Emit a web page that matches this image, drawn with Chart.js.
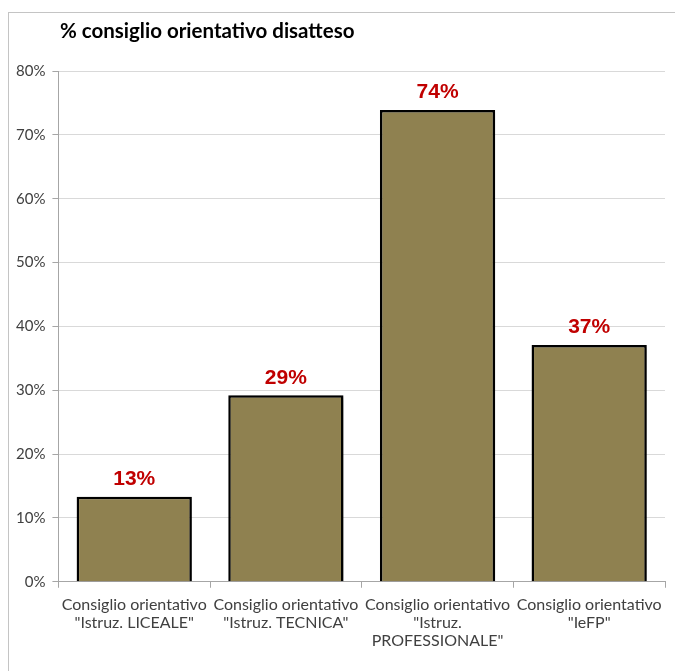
<!DOCTYPE html>
<html>
<head>
<meta charset="utf-8">
<script src="https://cdn.jsdelivr.net/npm/chart.js@4"></script>
<style>
  html, body { margin: 0; padding: 0; background: #fff; }
  #wrap { position: relative; width: 675px; height: 671px; overflow: hidden; }
  #frame { position: absolute; left: 8px; top: 12px; width: 700px; height: 700px; border: 1px solid #c4c4c4; }
  canvas { position: absolute; left: 0; top: 0; }
</style>
</head>
<body>
<div id="wrap">
  <div id="frame"></div>
  <canvas id="chart" width="675" height="671"></canvas>
</div>
<script>
  // Chart data
  const categories = [
    ['Consiglio orientativo', '"Istruz. LICEALE"'],
    ['Consiglio orientativo', '"Istruz. TECNICA"'],
    ['Consiglio orientativo', '"Istruz.', 'PROFESSIONALE"'],
    ['Consiglio orientativo', '"IeFP"']
  ];
  const values = [13.3, 29.2, 73.9, 37.1];
  const valueLabels = ['13%', '29%', '74%', '37%'];
  const titleText = '% consiglio orientativo disatteso';

  const font = 'Lato, "Open Sans", sans-serif';

  // title drawn over the plot's left edge
  const titlePlugin = {
    id: 'leftTitle',
    afterDraw(chart) {
      const ctx = chart.ctx;
      ctx.save();
      ctx.font = 'bold 20.5px ' + font;
      ctx.fillStyle = '#000';
      ctx.textBaseline = 'middle';
      ctx.textAlign = 'left';
      ctx.fillText(titleText, 60, 31);
      ctx.restore();
    }
  };

  // soft shadow behind bars
  const shadowPlugin = {
    id: 'barShadow',
    beforeDatasetsDraw(chart) {
      const ctx = chart.ctx;
      ctx.save();
      ctx.shadowColor = 'rgba(0,0,0,0.35)';
      ctx.shadowBlur = 5;
      ctx.shadowOffsetX = 3;
      ctx.shadowOffsetY = 2;
    },
    afterDatasetsDraw(chart) {
      chart.ctx.restore();
    }
  };

  // red value labels above bars
  const valuePlugin = {
    id: 'valueLabels',
    afterDatasetsDraw(chart) {
      const ctx = chart.ctx;
      const meta = chart.getDatasetMeta(0);
      ctx.save();
      ctx.font = 'bold 21px "Liberation Sans", Arial, sans-serif';
      ctx.fillStyle = '#c00000';
      ctx.textAlign = 'center';
      ctx.textBaseline = 'bottom';
      meta.data.forEach((bar, i) => {
        ctx.fillText(valueLabels[i], bar.x, bar.y - 7);
      });
      ctx.restore();
    }
  };

  const ctx = document.getElementById('chart').getContext('2d');
  new Chart(ctx, {
    type: 'bar',
    data: {
      labels: categories,
      datasets: [{
        data: values,
        backgroundColor: '#8f8150',
        borderColor: '#000',
        borderWidth: 2.5,
        categoryPercentage: 0.76,
        barPercentage: 1
      }]
    },
    options: {
      responsive: false,
      animation: false,
      layout: { padding: { left: 9, right: 10, top: 71, bottom: 13 } },
      plugins: {
        legend: { display: false },
        title: { display: false },
        tooltip: { enabled: false }
      },
      scales: {
        y: {
          min: 0,
          max: 80,
          ticks: {
            stepSize: 10,
            callback: v => v + '%',
            color: '#404040',
            font: { family: font, size: 15 },
            padding: 7
          },
          grid: { color: '#d9d9d9', tickLength: 6, tickColor: '#a6a6a6' },
          border: { color: '#a6a6a6' }
        },
        x: {
          ticks: {
            color: '#404040',
            font: { family: font, size: 16, lineHeight: 1.13 },
            padding: 8,
            maxRotation: 0,
            autoSkip: false
          },
          grid: { drawOnChartArea: false, tickLength: 6, color: '#a6a6a6' },
          border: { color: '#a6a6a6' }
        }
      }
    },
    plugins: [shadowPlugin, valuePlugin, titlePlugin]
  });
</script>
</body>
</html>
